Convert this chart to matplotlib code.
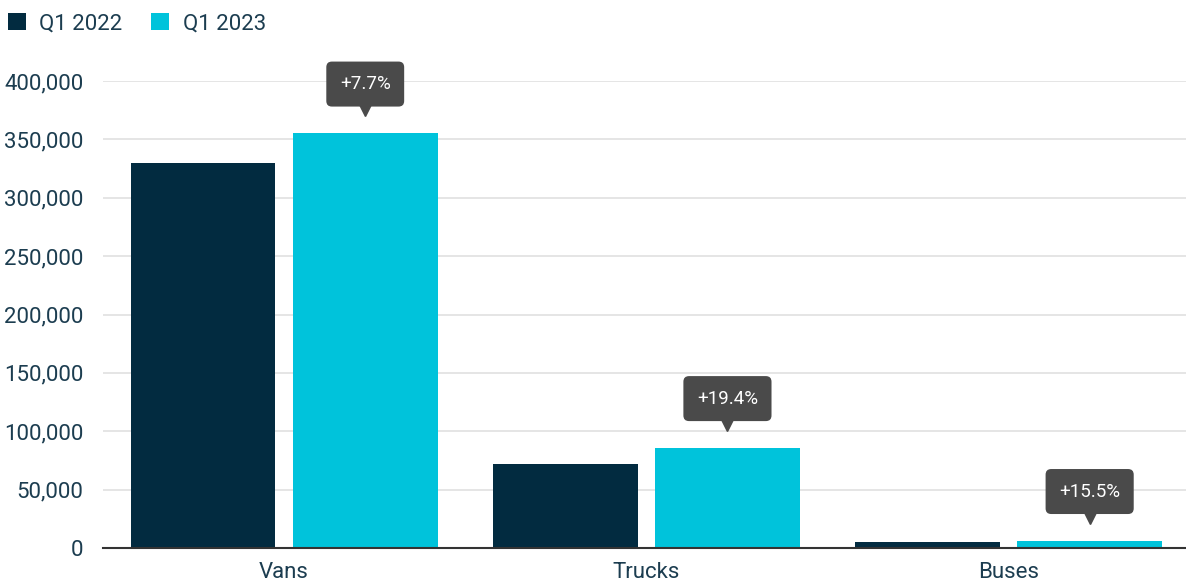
import matplotlib.pyplot as plt
import matplotlib.transforms as mtransforms
from matplotlib.patches import Patch
from matplotlib.ticker import FuncFormatter
import numpy as np

plt.rcParams["font.family"] = ["Roboto", "DejaVu Sans"]

categories = ["Vans", "Trucks", "Buses"]
q1_2022 = [330000, 72000, 5500]
q1_2023 = [355400, 86000, 6400]
changes = ["+7.7%", "+19.4%", "+15.5%"]
series_labels = ["Q1 2022", "Q1 2023"]

NAVY = "#022b40"
CYAN = "#00c3db"
TEXT = "#1c3d50"
TIP = "#4a4a4a"

fig = plt.figure(figsize=(11.86, 5.86), dpi=100)
ax = fig.add_axes([103 / 1186, 38 / 586, 1083 / 1186, 467 / 586])

x = np.arange(len(categories))
w = 0.4
off = 0.224
ax.bar(x - off, q1_2022, width=w, color=NAVY, zorder=3)
ax.bar(x + off, q1_2023, width=w, color=CYAN, zorder=3)

ax.set_xlim(-0.5, 2.49)
ax.set_ylim(0, 400000)
ax.set_yticks(np.arange(0, 400001, 50000))
ax.yaxis.set_major_formatter(FuncFormatter(lambda v, p: f"{int(v):,}"))
ax.set_xticks(x)
ax.set_xticklabels(categories)
ax.tick_params(axis="both", length=0, labelsize=16, colors=TEXT)
ax.tick_params(axis="y", pad=14)
ax.tick_params(axis="x", pad=10)
ax.grid(axis="y", color="#e3e3e3", linewidth=1.3, zorder=0)
for s in ["top", "right", "left"]:
    ax.spines[s].set_visible(False)
ax.spines["bottom"].set_color("#333333")
ax.spines["bottom"].set_linewidth(1.5)
ax.spines["bottom"].set_zorder(4)

# change callouts above the Q1 2023 bars
for xi, val, txt in zip(x + off, q1_2023, changes):
    box_tr = mtransforms.offset_copy(ax.transData, fig=fig, x=0, y=49, units="dots")
    ax.text(xi, val, txt, transform=box_tr, ha="center", va="center",
            fontsize=13.5, color="white", zorder=6, clip_on=False,
            bbox=dict(boxstyle="round,pad=0.72,rounding_size=0.3", fc=TIP, ec="none"))
    tri_tr = mtransforms.offset_copy(ax.transData, fig=fig, x=0, y=23, units="dots")
    ax.plot([xi], [val], marker="v", markersize=9, color=TIP, transform=tri_tr,
            zorder=6, clip_on=False)

handles = [Patch(facecolor=NAVY, edgecolor="none"), Patch(facecolor=CYAN, edgecolor="none")]
fig.legend(handles, series_labels, loc="upper left", bbox_to_anchor=(-0.01, 1.012),
           ncol=2, frameon=False, fontsize=16, handlelength=0.8, handleheight=0.8,
           handletextpad=0.6, columnspacing=1.3, labelcolor=TEXT)

fig.savefig("out.png", dpi=100)
